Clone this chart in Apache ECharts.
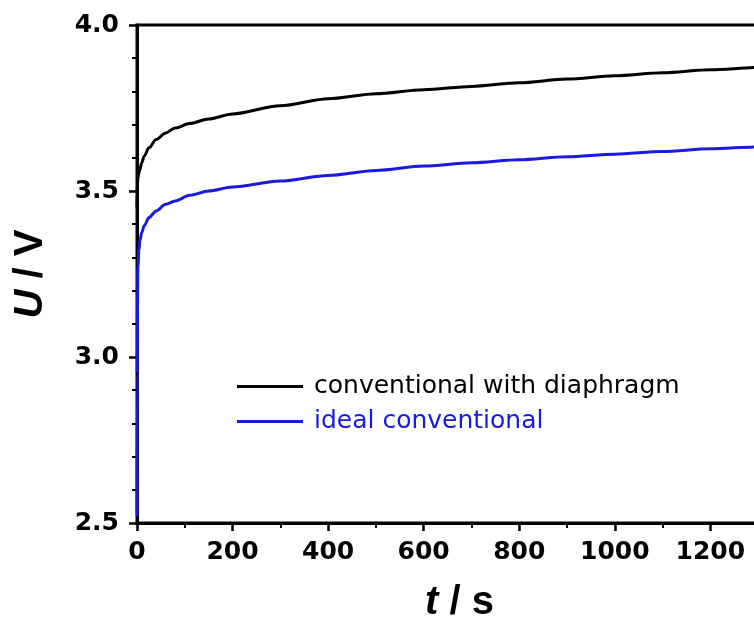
<!DOCTYPE html>
<html>
<head>
<meta charset="utf-8">
<script src="https://cdn.jsdelivr.net/npm/echarts@6/dist/echarts.min.js"></script>
<style>html,body{margin:0;padding:0;background:#fff;overflow:hidden;}#c{width:754px;height:620px;}</style>
</head>
<body>
<div id="c"></div>
<script>
const times = [0, 0.5, 1, 2, 4, 6, 10, 15, 25, 40, 60, 80, 110, 150, 200, 300, 400, 500, 600, 700, 800, 900, 1000, 1100, 1200, 1300, 1350];
const idealConventional = [2.52, 2.95, 3.15, 3.27, 3.32, 3.35, 3.375, 3.395, 3.42, 3.44, 3.46, 3.47, 3.487, 3.5, 3.512, 3.53, 3.547, 3.562, 3.575, 3.585, 3.594, 3.603, 3.611, 3.619, 3.627, 3.633, 3.636];
const withDiaphragm = [3.45, 3.5, 3.52, 3.54, 3.555, 3.565, 3.585, 3.605, 3.63, 3.655, 3.675, 3.69, 3.703, 3.717, 3.732, 3.757, 3.778, 3.793, 3.805, 3.815, 3.826, 3.837, 3.847, 3.856, 3.865, 3.872, 3.875];
const seriesNames = ['conventional with diaphragm', 'ideal conventional'];
const seriesColors = ['#000000', '#1a1adc'];
const xTicks = [0, 200, 400, 600, 800, 1000, 1200];
const yTicks = ['2.5', '3.0', '3.5', '4.0'];

const font = '"Liberation Sans", Arial, sans-serif';
const tickFont = '"DejaVu Sans", sans-serif';
const chart = echarts.init(document.getElementById('c'), null, {renderer: 'canvas'});
const pair = (ys) => times.map((t, i) => [t, ys[i]]);
chart.setOption({
  animation: false,
  backgroundColor: '#fff',
  grid: {left: 137, width: 645, top: 25, height: 498, show: true, borderColor: '#000', borderWidth: 3,
         containLabel: false, outerBoundsMode: 'none'},
  legend: {
    orient: 'vertical', left: 232, top: 369, itemWidth: 66, itemHeight: 3, itemGap: 10,
    icon: 'rect',
    data: seriesNames.map((n, i) => ({name: n, textStyle: {color: seriesColors[i]}})),
    textStyle: {fontFamily: tickFont, fontSize: 25, padding: [0, 0, 0, 6]}
  },
  xAxis: {
    type: 'value', min: 0, max: 1350, interval: 200,
    name: '{i|t} / s', nameLocation: 'middle', nameGap: 60,
    nameTextStyle: {fontFamily: font, fontSize: 40, fontWeight: 'bold', color: '#000',
      rich: {i: {fontFamily: font, fontSize: 40, fontWeight: 'bold', fontStyle: 'italic', color: '#000'}}},
    axisLine: {lineStyle: {color: '#000', width: 3}},
    axisTick: {show: true, inside: false, length: 8, lineStyle: {color: '#000', width: 2.5}},
    minorTick: {show: true, splitNumber: 2, length: 5, lineStyle: {color: '#000', width: 2}},
    axisLabel: {showMaxLabel: false, margin: 17, fontFamily: tickFont, fontSize: 25, fontWeight: 'bold', color: '#000',
      formatter: v => xTicks.includes(v) ? String(v) : ''},
    splitLine: {show: false}
  },
  yAxis: {
    type: 'value', min: 2.5, max: 4.0, interval: 0.5,
    name: '{i|U} / V', nameLocation: 'middle', nameGap: 86, nameRotate: 90,
    nameTextStyle: {fontFamily: font, fontSize: 40, fontWeight: 'bold', color: '#000',
      rich: {i: {fontFamily: font, fontSize: 40, fontWeight: 'bold', fontStyle: 'italic', color: '#000'}}},
    axisLine: {lineStyle: {color: '#000', width: 3}},
    axisTick: {show: true, inside: false, length: 8, lineStyle: {color: '#000', width: 2.5}},
    minorTick: {show: true, splitNumber: 5, length: 5, lineStyle: {color: '#000', width: 2}},
    axisLabel: {margin: 18, fontFamily: tickFont, fontSize: 25, fontWeight: 'bold', color: '#000',
      formatter: v => yTicks[Math.round((v - 2.5) / 0.5)] || ''},
    splitLine: {show: false}
  },
  series: [
    {name: seriesNames[0], type: 'line', data: pair(withDiaphragm), showSymbol: false, smooth: 0.3, smoothMonotone: 'x',
     lineStyle: {color: seriesColors[0], width: 3}, itemStyle: {color: seriesColors[0]}},
    {name: seriesNames[1], type: 'line', data: pair(idealConventional), showSymbol: false, smooth: 0.3, smoothMonotone: 'x',
     lineStyle: {color: seriesColors[1], width: 3}, itemStyle: {color: seriesColors[1]}}
  ]
});
</script>
</body>
</html>
